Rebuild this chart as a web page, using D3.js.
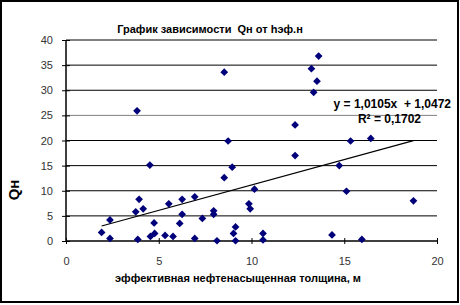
<!DOCTYPE html>
<html>
<head>
<meta charset="utf-8">
<script src="https://cdn.jsdelivr.net/npm/d3@7"></script>
<style>
  body { margin: 0; background: #fff; }
  svg { display: block; font-family: Arial, "Liberation Sans", sans-serif; }
</style>
</head>
<body>
<div id="chart"></div>
<script>
// h эф.н (m) and Qн values
var hEff = [1.92, 2.37, 2.37, 3.83, 3.94, 3.76, 4.16, 3.87, 4.52, 4.75,
            4.55, 4.78, 5.34, 5.54, 5.77, 6.26, 6.26, 6.13, 6.94, 6.94,
            7.35, 7.96, 7.96, 8.14, 8.53, 8.74, 8.96, 8.53, 9.14, 9.03,
            9.14, 9.86, 9.93, 10.16, 10.62, 10.62, 13.62, 13.23, 13.53, 13.35,
            12.35, 12.35, 15.34, 16.43, 14.73, 15.12, 18.73, 14.34, 15.95];
var qOil = [1.7, 4.2, 0.5, 25.9, 8.3, 5.8, 6.4, 0.3, 15.1, 3.6,
            0.9, 1.5, 1.1, 7.4, 0.9, 8.3, 5.3, 3.5, 8.8, 0.5,
            4.5, 6.0, 5.3, 0.05, 33.6, 19.9, 14.7, 12.6, 2.8, 1.5,
            0.05, 7.4, 6.4, 10.3, 1.5, 0.2, 36.8, 34.3, 31.8, 29.6,
            23.1, 17.0, 19.9, 20.4, 15.0, 9.9, 8.0, 1.2, 0.3];
var xTicks = [0, 5, 10, 15, 20];
var yTicks = [0, 5, 10, 15, 20, 25, 30, 35, 40];
var slope = 1.0105, intercept = 1.0472;

var width = 460, height = 305;
var svg = d3.select('#chart').append('svg')
    .attr('width', width)
    .attr('height', height);

// outer frame
svg.append('rect')
    .attr('x', 1).attr('y', 1)
    .attr('width', 457).attr('height', 301)
    .attr('fill', 'none')
    .attr('stroke', '#000')
    .attr('stroke-width', 2);

var x = d3.scaleLinear().domain([0, 20]).range([66, 437]);
var y = d3.scaleLinear().domain([0, 40]).range([241, 40]);

// horizontal gridlines
svg.append('g').selectAll('line')
    .data(yTicks.filter(function(d) { return d > 0; }))
    .enter().append('line')
    .attr('x1', x(0)).attr('x2', x(20))
    .attr('y1', function(d) { return y(d); })
    .attr('y2', function(d) { return y(d); })
    .attr('stroke', function(d) { return d === 25 ? '#808080' : '#000'; })
    .attr('stroke-width', 1);

// axes (cross ticks)
var yAxis = svg.append('g')
    .attr('transform', 'translate(' + x(0) + ',0)')
    .call(d3.axisLeft(y).tickValues(yTicks).tickSize(4).tickPadding(9));
yAxis.selectAll('.tick line').attr('x2', 4).attr('x1', -4);

var xAxis = svg.append('g')
    .attr('transform', 'translate(0,' + y(0) + ')')
    .call(d3.axisBottom(x).tickValues(xTicks).tickSize(4).tickPadding(12));
xAxis.selectAll('.tick line').attr('y1', -3).attr('y2', 3);

[xAxis, yAxis].forEach(function(a) {
    a.select('.domain').attr('stroke', '#000').attr('stroke-width', 1.5);
    a.selectAll('.tick text')
        .attr('font-size', 11)
        .attr('fill', '#333')
        .attr('font-family', 'Arial, "Liberation Sans", sans-serif');
});
xAxis.select('.domain').attr('d', 'M' + x(0) + ',0H' + x(20));
yAxis.select('.domain').attr('d', 'M0,' + y(0) + 'V' + y(40));

// trend line over the data range
var xMin = d3.min(hEff), xMax = d3.max(hEff);
svg.append('line')
    .attr('x1', x(xMin)).attr('y1', y(slope * xMin + intercept))
    .attr('x2', x(xMax)).attr('y2', y(slope * xMax + intercept))
    .attr('stroke', '#000')
    .attr('stroke-width', 1.2);

// points
var diamond = d3.symbol().type(d3.symbolSquare).size(30);
svg.append('g').selectAll('path')
    .data(hEff)
    .enter().append('path')
    .attr('d', diamond)
    .attr('transform', function(d, i) {
        return 'translate(' + x(d) + ',' + y(qOil[i]) + ') rotate(45)';
    })
    .attr('fill', '#00007a');

// texts
svg.append('text')
    .attr('x', 210).attr('y', 33)
    .attr('text-anchor', 'middle')
    .attr('font-size', 11).attr('font-weight', 'bold')
    .attr('xml:space', 'preserve')
    .text('График зависимости  Qн от hэф.н');

svg.append('text')
    .attr('x', 238).attr('y', 282)
    .attr('text-anchor', 'middle')
    .attr('font-size', 11).attr('font-weight', 'bold')
    .text('эффективная нефтенасыщенная толщина, м');

svg.append('text')
    .attr('transform', 'translate(19,190) rotate(-90)')
    .attr('text-anchor', 'middle')
    .attr('font-size', 15).attr('font-weight', 'bold')
    .text('Qн');

svg.append('text')
    .attr('x', 451).attr('y', 108)
    .attr('text-anchor', 'end')
    .attr('font-size', 12).attr('font-weight', 'bold')
    .attr('xml:space', 'preserve')
    .text('y = 1,0105x  + 1,0472');

svg.append('text')
    .attr('x', 421).attr('y', 123)
    .attr('text-anchor', 'end')
    .attr('font-size', 12).attr('font-weight', 'bold')
    .text('R² = 0,1702');
</script>
</body>
</html>
